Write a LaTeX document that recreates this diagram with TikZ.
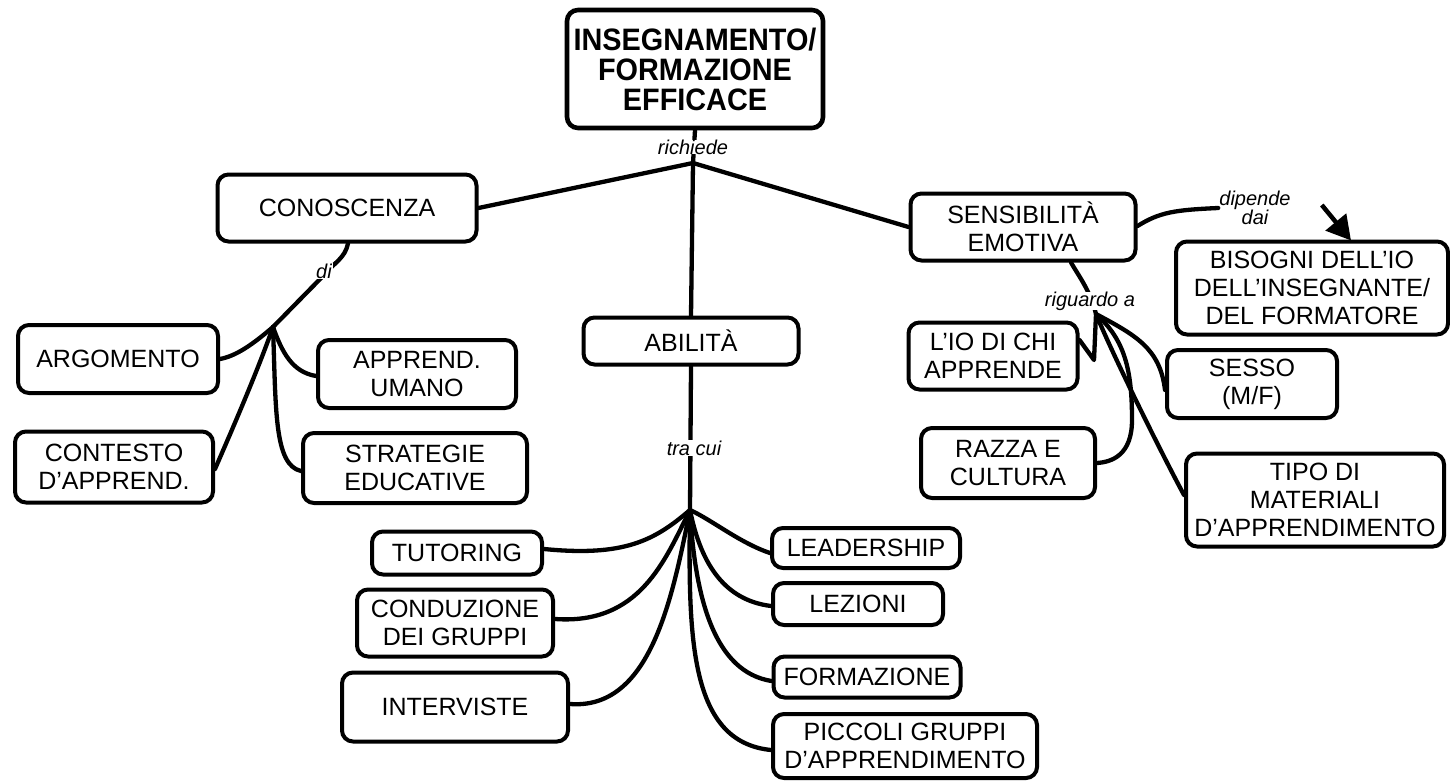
\documentclass[tikz,border=0pt]{standalone}
\usepackage{fontspec}
\setmainfont{Liberation Sans}
\newfontfamily\titlefont{Liberation Sans}[FakeStretch=0.93]
\usetikzlibrary{arrows.meta}
\begin{document}
\begin{tikzpicture}[x=1pt,y=-1pt,
  box/.style={draw, line width=4pt, rounded corners=11pt, fill=white, align=center,
    inner sep=0pt, font=\fontsize{25}{28}\selectfont},
  lab/.style={font=\fontsize{20}{18}\selectfont\itshape, align=center, inner sep=1pt, fill=white},
  conn/.style={line width=4.3pt, line cap=round, line join=round}]
\useasboundingbox (0,0) rectangle (1450,781);
% nodes
\node[box, line width=4.6pt, minimum width=256pt, minimum height=118pt,
  font=\titlefont\bfseries\fontsize{31}{30}\selectfont] (title) at (695,69)
  {INSEGNAMENTO/\\FORMAZIONE\\EFFICACE};
\node[box, minimum width=259pt, minimum height=67pt] (cono) at (347,208) {CONOSCENZA};
\node[box, minimum width=215pt, minimum height=47pt] (abil) at (691,341) {ABILITÀ};
\node[box, minimum width=225pt, minimum height=67pt] (sens) at (1023,227) {SENSIBILITÀ\\EMOTIVA};
\node[box, minimum width=200pt, minimum height=68pt] (arg) at (118,359) {ARGOMENTO};
\node[box, minimum width=198pt, minimum height=68pt] (appr) at (417,374) {APPREND.\\UMANO};
\node[box, minimum width=198pt, minimum height=71pt] (cont) at (114,467) {CONTESTO\\D’APPREND.};
\node[box, minimum width=224pt, minimum height=70pt] (strat) at (415,468) {STRATEGIE\\EDUCATIVE};
\node[box, minimum width=170pt, minimum height=43pt] (tut) at (457,553) {TUTORING};
\node[box, minimum width=196pt, minimum height=67pt] (cond) at (455,623) {CONDUZIONE\\DEI GRUPPI};
\node[box, minimum width=226pt, minimum height=69pt] (interv) at (455,707) {INTERVISTE};
\node[box, minimum width=188pt, minimum height=40pt] (lead) at (866,548) {LEADERSHIP};
\node[box, minimum width=170pt, minimum height=42pt] (lez) at (858,604) {LEZIONI};
\node[box, minimum width=187pt, minimum height=41pt] (form) at (867,677) {FORMAZIONE};
\node[box, minimum width=264pt, minimum height=64pt] (picc) at (905,746) {PICCOLI GRUPPI\\D’APPRENDIMENTO};
\node[box, minimum width=169pt, minimum height=67pt] (lio) at (993,356) {L’IO DI CHI\\APPRENDE};
\node[box, minimum width=174pt, minimum height=70pt] (razza) at (1008,463) {RAZZA E\\CULTURA};
\node[box, minimum width=272pt, minimum height=93pt] (bis) at (1312,288) {BISOGNI DELL’IO\\DELL’INSEGNANTE/\\DEL FORMATORE};
\node[box, minimum width=170pt, minimum height=68pt] (sesso) at (1252,384) {SESSO\\(M/F)};
\node[box, minimum width=258pt, minimum height=93pt] (tipo) at (1315,500) {TIPO DI\\MATERIALI\\D’APPRENDIMENTO};
% junctions
\coordinate (J1) at (693,163);
\coordinate (J2) at (273,327);
\coordinate (J3) at (690,510);
\coordinate (J4) at (1096,314);
% top connectors
\draw[conn] (title.south) -- (J1);
\draw[conn] (J1) -- (cono.east);
\draw[conn] (J1) -- (sens.west);
\draw[conn] (J1) -- (abil.north);
% conoscenza branch
\draw[conn] ([xshift=1pt]cono.south) .. controls (345,258) and (335,262) .. (325,274) -- (J2);
\draw[conn] (J2) .. controls (252,345) and (236,356) .. (arg.east);
\draw[conn] (J2) .. controls (282,352) and (292,372) .. ([yshift=-2pt]appr.west);
\draw[conn] (J2) .. controls (258,370) and (232,430) .. ([yshift=-2pt]cont.east);
\draw[conn] (J2) .. controls (276,410) and (274,465) .. ([yshift=-3pt]strat.west);
% abilita branch
\draw[conn] (abil.south) -- (J3);
\draw[conn] (J3) .. controls (655,540) and (625,557) .. ([yshift=4pt]tut.east);
\draw[conn] (J3) .. controls (665,560) and (640,625) .. ([yshift=4pt]cond.east);
\draw[conn] (J3) .. controls (672,600) and (650,710) .. ([yshift=3pt]interv.east);
\draw[conn] (J3) .. controls (712,520) and (740,543) .. ([yshift=-5pt]lead.west);
\draw[conn] (J3) .. controls (700,560) and (722,600) .. ([yshift=-2pt]lez.west);
\draw[conn] (J3) .. controls (695,600) and (715,672) .. ([yshift=-4pt]form.west);
\draw[conn] (J3) .. controls (688,640) and (690,742) .. ([yshift=-4pt]picc.west);
% sensibilita branch
\node[lab] (dip) at (1255,208) {dipende\\dai};
\draw[conn] ([yshift=1pt]sens.east) .. controls (1160,212) and (1175,210) .. (dip.west);
\draw[line width=4.5pt, -{Triangle[length=24pt,width=26pt]}] ([xshift=30pt,yshift=3pt]dip.east) -- ([xshift=39pt,yshift=-1pt]bis.north);
\draw[conn] ([xshift=48pt]sens.south) .. controls (1078,275) and (1090,290) .. (J4);
\draw[conn] (J4) -- (1094,360) -- ([yshift=16pt]lio.east);
\draw[conn] (J4) .. controls (1135,335) and (1160,348) .. ([yshift=-6pt]sesso.west);
\draw[conn] (J4) .. controls (1125,340) and (1132,370) .. (1132,420) .. controls (1132,455) and (1112,462) .. (razza.east);
\draw[conn] (J4) .. controls (1115,360) and (1165,460) .. ([yshift=5pt]tipo.west);
% labels
\node[lab, inner sep=0pt] at (693,147) {richiede};
\node[lab] at (324,271) {di};
\node[lab] at (694,448) {tra cui};
\node[lab, inner sep=0pt] at (1090,301) {riguardo a};
\end{tikzpicture}
\end{document}
